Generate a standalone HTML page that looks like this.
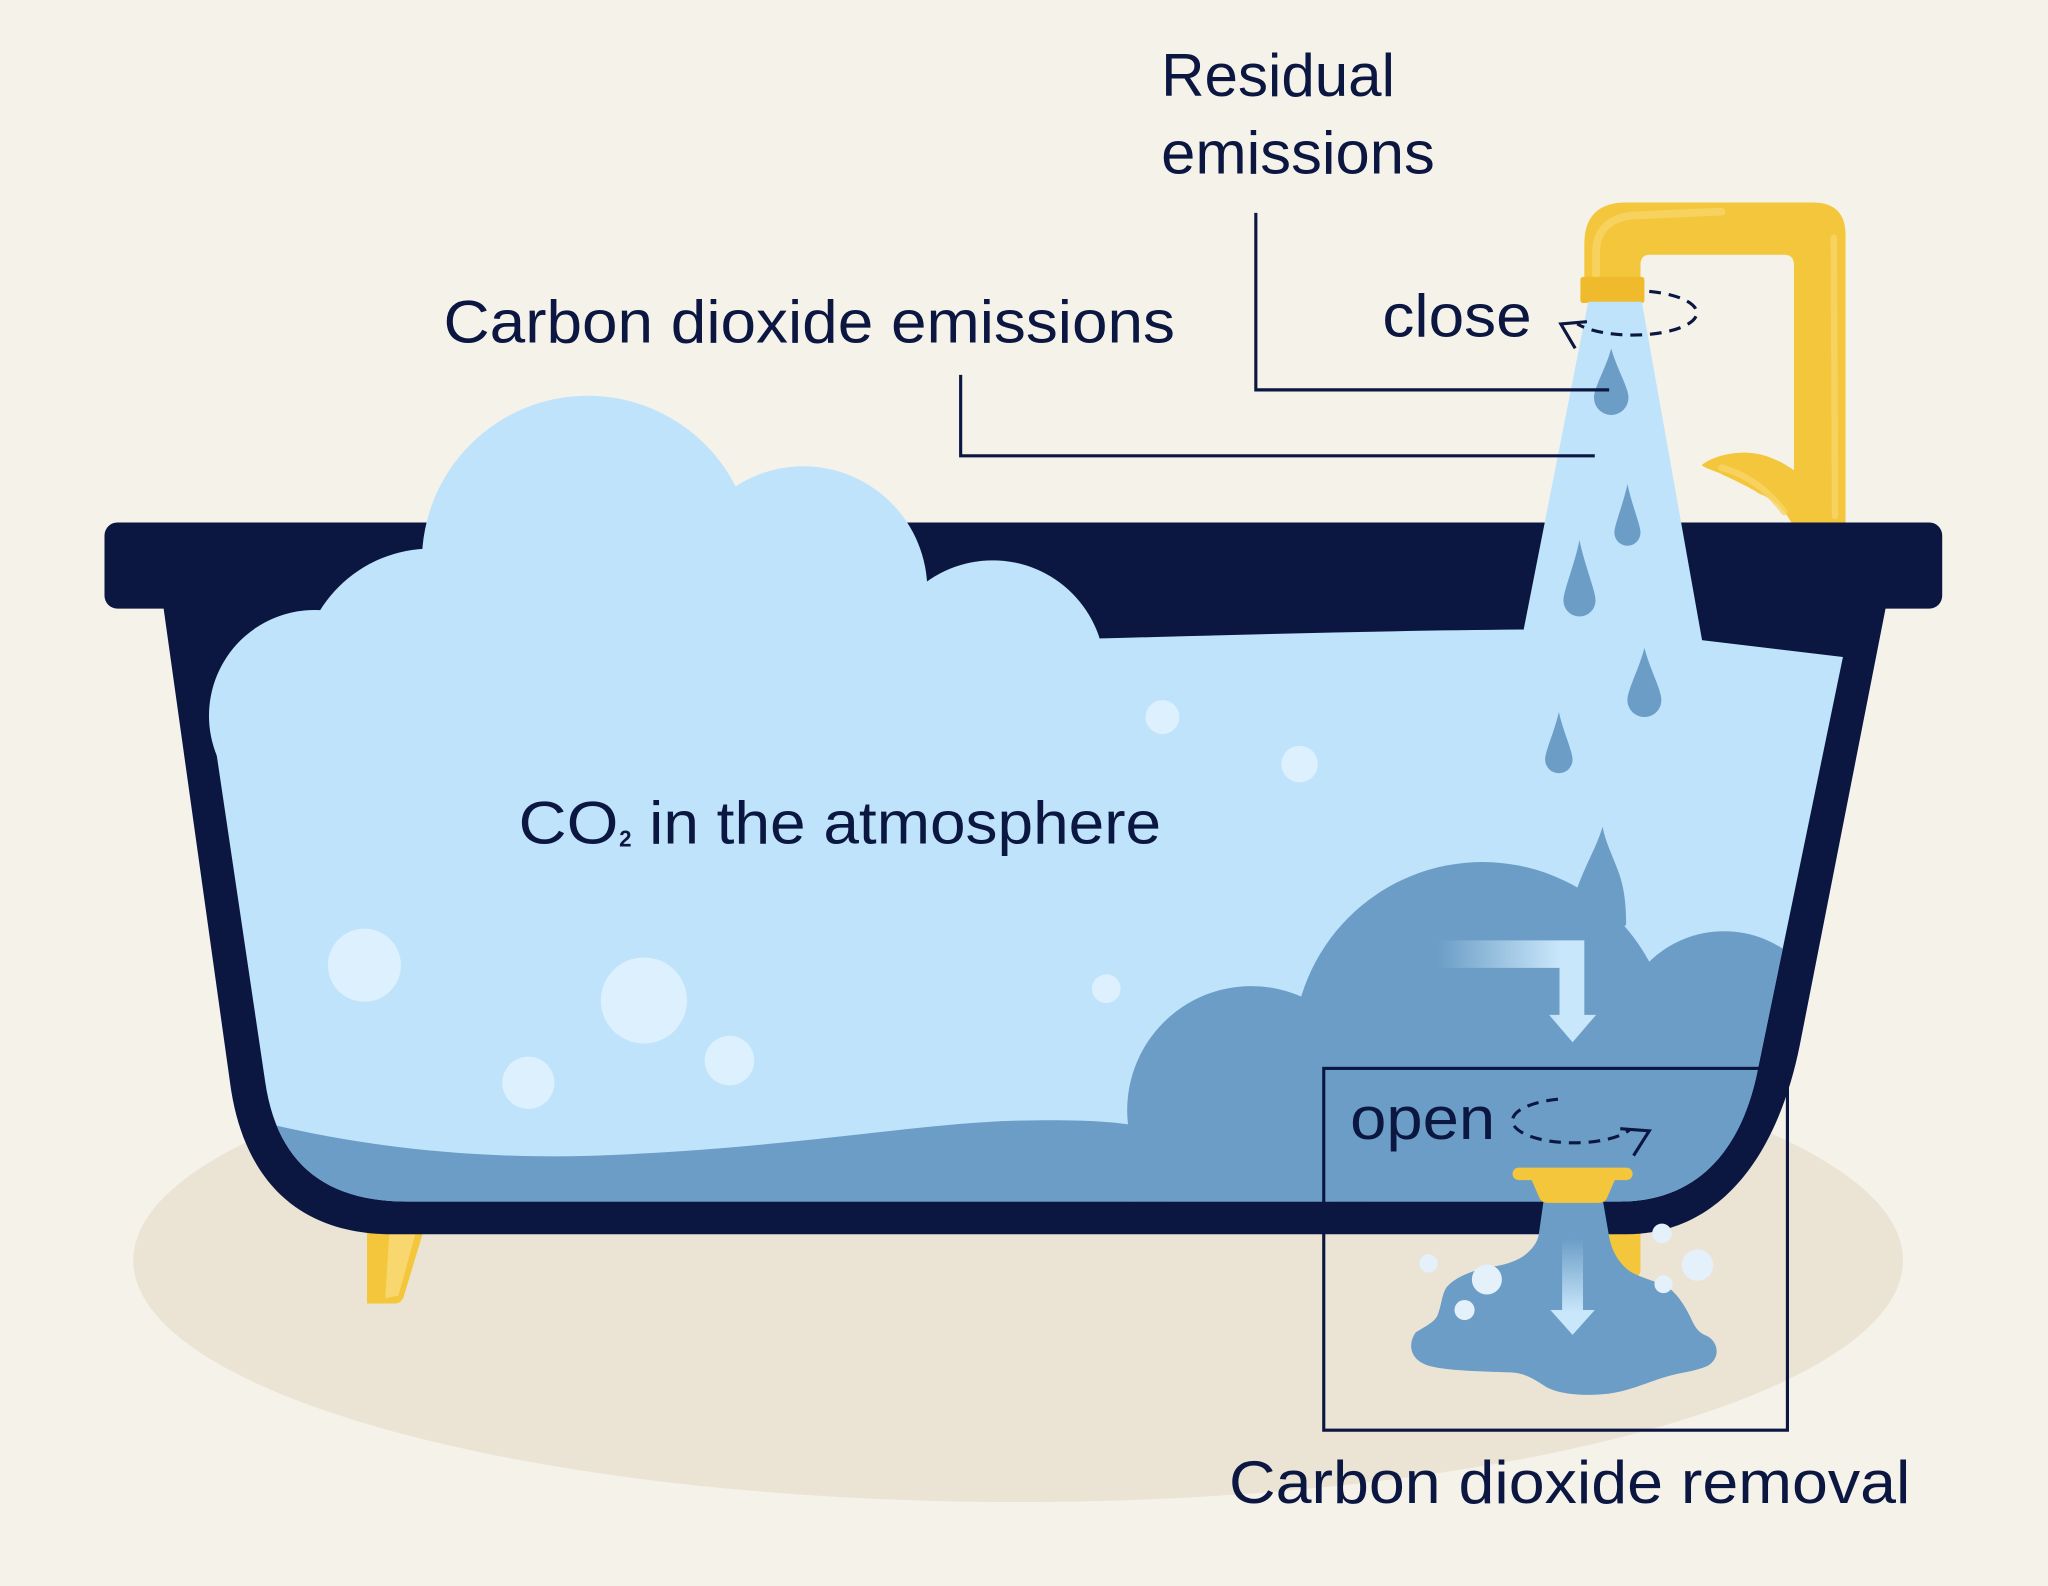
<!DOCTYPE html>
<html><head><meta charset="utf-8"><style>
html,body{margin:0;padding:0;background:#f5f2ea;}
svg{display:block;}
text{font-family:"Liberation Sans",Arial,sans-serif;fill:#0b1741;}
</style></head><body>
<svg width="2048" height="1586" viewBox="0 0 1568 1214.3" preserveAspectRatio="none" xmlns="http://www.w3.org/2000/svg">
<defs>
<clipPath id="inner"><path d="M161,545 L203,828 C212,890 248,920 312,920 L1240,920 C1300,920 1334,880 1346,818 L1411,503 L1411,300 L161,300 Z"/></clipPath>
<linearGradient id="ga" gradientUnits="userSpaceOnUse" x1="1100" y1="0" x2="1195" y2="0"><stop offset="0" stop-color="#c9e7fb" stop-opacity="0"/><stop offset="1" stop-color="#c9e7fb" stop-opacity="1"/></linearGradient>
<linearGradient id="gb" gradientUnits="userSpaceOnUse" x1="0" y1="948" x2="0" y2="1005"><stop offset="0" stop-color="#c9e7fb" stop-opacity="0"/><stop offset="1" stop-color="#c9e7fb" stop-opacity="1"/></linearGradient>
</defs>
<rect x="0" y="0" width="1568" height="1215" fill="#f5f2ea"/>
<ellipse cx="779.5" cy="965" rx="677.5" ry="185" fill="#ebe4d5"/>
<!-- feet -->
<path d="M281,940 L325,940 L309,993 Q307,998 302,998 L281,998 Z" fill="#f3c63c"/>
<path d="M298,945 L318,945 L305,992 L295,994 Z" fill="#f8d86e"/>
<path d="M1232,940 L1256,940 L1256,972 Q1256,978 1250,978 L1232,978 Z" fill="#f3c63c"/>
<!-- faucet -->
<path d="M1213,214 L1213,187 Q1213,155 1245,155 L1388,155 Q1413,155 1413,180 L1413,405 L1374,405 C1368,392 1360,383 1347,378 C1338,372 1326,367 1316,362 C1308,359 1303,357 1303,356 C1310,350 1325,346 1338,346.6 C1350,347 1362,352 1373.5,360 L1373.5,203 Q1373.5,195 1366,195 L1263,195 Q1256,195 1256,203 L1256,214 Z" fill="#f3c63c"/>
<path d="M1222,210 L1222,192 Q1223,168 1250,165 L1318,162" stroke="#f7d467" stroke-width="6" fill="none" stroke-linecap="round" opacity="0.8"/>
<path d="M1404,182 L1405,395" stroke="#f7d467" stroke-width="5" fill="none" stroke-linecap="round" opacity="0.8"/>
<path d="M1318,358 C1336,363 1352,373 1366,392" stroke="#f7d467" stroke-width="5" fill="none" stroke-linecap="round" opacity="0.8"/>
<rect x="1210" y="212" width="49" height="20" rx="2" fill="#efbb2c"/>
<!-- tub -->
<rect x="80" y="400" width="1407" height="66" rx="10" fill="#0b1741"/>
<path d="M125,464 L176,828 C186,905 230,945 300,945 L1245,945 C1320,945 1362,880 1378,800 L1444,464 Z" fill="#0b1741"/>
<!-- light water + cloud -->
<g fill="#bee3fa">
<path d="M161,545 L203,828 C212,890 248,920 312,920 L1240,920 C1300,920 1334,880 1346,818 L1411,503 L1302,490 L1165,482 C1050,483 950,486 836,489 L780,489 L780,468 L235,468 L235,545 Z"/>
<circle cx="241" cy="548" r="81"/>
<circle cx="330" cy="520" r="100"/>
<circle cx="450" cy="430" r="127"/>
<circle cx="615" cy="452" r="95"/>
<circle cx="760" cy="515" r="86"/>
</g>
<!-- dark water -->
<g clip-path="url(#inner)" fill="#6b9dc6">
<path d="M150,845 C230,870 330,888 450,885 C600,880 700,860 780,858 C830,857 855,859 870,862 L870,950 L150,950 Z"/>
<circle cx="958" cy="850" r="95"/>
<circle cx="1135" cy="805" r="145"/>
<circle cx="1320" cy="795" r="82"/>
<rect x="864" y="850" width="560" height="100"/>
<path d="M1227,633 C1222,650 1212,665 1206,685 L1230,720 L1245,708 C1245,695 1244,682 1240,670 C1236,658 1229,645 1227,633 Z"/>
</g>
<!-- bubbles -->
<g fill="#dcf0fd">
<circle cx="890" cy="549" r="13"/>
<circle cx="995" cy="585" r="14"/>
<circle cx="279" cy="739" r="28"/>
<circle cx="493" cy="766" r="33"/>
<circle cx="404.5" cy="829" r="20"/>
<circle cx="558.5" cy="812" r="19"/>
<circle cx="847" cy="757" r="11"/>
</g>
<!-- stream -->
<path d="M1216,231 L1257,231 L1304,495 L1164,495 Z" fill="#bee3fa"/>
<g fill="#6b9dc6">
<path d="M1233.6,266.7 C1237.6,281.8 1246.8,296.6 1246.8,304.5 A13.2 13.2 0 0 1 1220.4,304.5 C1220.4,296.6 1229.6,281.8 1233.6,266.7Z"/>
<path d="M1246,370.6 C1249,385.5 1256,401.8 1256,407.8 A10 10 0 0 1 1236,407.8 C1236,401.8 1243,385.5 1246,370.6Z"/>
<path d="M1209.3,413.5 C1213,432 1221.6,452.3 1221.6,459.7 A12.3 12.3 0 0 1 1197,459.7 C1197,452.3 1205.6,432 1209.3,413.5Z"/>
<path d="M1259,496 C1263,512 1272,528 1272,536 A13 13 0 0 1 1246,536 C1246,528 1255,512 1259,496Z"/>
<path d="M1193.5,545 C1196.6,559.6 1204,575 1204,581.5 A10.5 10.5 0 0 1 1183,581.5 C1183,575 1190.4,559.6 1193.5,545Z"/>
</g>
<!-- top arrow -->
<path d="M1100,720 L1213,720 L1213,777 L1222,777 L1204,798 L1186,777 L1194,777 L1194,741 L1100,741 Z" fill="url(#ga)"/>
<!-- drain & puddle -->
<path d="M1182,918 L1227,918 L1232,947 C1234,957 1238,965 1246,972 C1252,977 1265,980 1276,985 C1284,990 1290,1000 1294,1008 C1297,1015 1300,1020 1305,1022 C1316,1026 1318,1040 1307,1046 C1298,1050 1286,1051 1276,1054 C1262,1058 1248,1065 1232,1067 C1215,1069 1195,1068 1184,1062 C1175,1056 1168,1052 1160,1051 C1140,1050 1110,1050 1095,1046 C1080,1042 1077,1030 1084,1020 C1092,1015 1099,1012 1101,1006 C1104,998 1104,990 1108,985 C1115,977 1130,972 1141,970 C1150,969 1160,966 1166,962 C1173,957 1177,951 1178,946 Z" fill="#6b9dc6"/>
<rect x="1158" y="894" width="92" height="9.5" rx="4.7" fill="#f3c63c"/>
<path d="M1172,902 L1237,902 L1230,918 Q1228,921 1224,921 L1185,921 Q1181,921 1179,918 Z" fill="#f3c63c"/>
<g fill="#e4f1fb">
<circle cx="1093.7" cy="967.3" r="7"/>
<circle cx="1138.4" cy="979.6" r="11.5"/>
<circle cx="1121.3" cy="1003" r="7.7"/>
<circle cx="1272.4" cy="944.4" r="7.5"/>
<circle cx="1299.7" cy="968.6" r="12"/>
<circle cx="1273.6" cy="983.2" r="6.9"/>
</g>
<path d="M1196,948 L1212,948 L1212,1003 L1221,1003 L1204,1022 L1187,1003 L1196,1003 Z" fill="url(#gb)"/>
<!-- connectors -->
<g stroke="#0b1741" stroke-width="2.4" fill="none">
<path d="M961.5,163 L961.5,298.5 L1232,298.5"/>
<path d="M735.5,287 L735.5,349 L1221,349"/>
<rect x="1013.5" y="818" width="355" height="277"/>
<path d="M1262.7,223.1 A49 17 0 1 1 1207.6,248" stroke-dasharray="9 6"/>
<polyline points="1215,246.3 1195,248 1206,266.7" stroke-linejoin="miter"/>
<path d="M1192.8,841.6 A47 17 0 1 0 1247.6,865.2" stroke-dasharray="9 6"/>
<polyline points="1240.5,864.2 1262.7,865.8 1250.7,884.8"/>
</g>
<!-- text -->
<g font-size="46">
<text x="889" y="73.5" textLength="179" lengthAdjust="spacingAndGlyphs">Residual</text>
<text x="889" y="132.7" textLength="209.5" lengthAdjust="spacingAndGlyphs">emissions</text>
<text x="339.6" y="262.4" textLength="560" lengthAdjust="spacingAndGlyphs">Carbon dioxide emissions</text>
<text x="1058.4" y="257.8" textLength="114.3" lengthAdjust="spacingAndGlyphs">close</text>
<text x="397" y="645.7" textLength="76.5" lengthAdjust="spacingAndGlyphs">CO</text>
<text x="497" y="645.7" textLength="392" lengthAdjust="spacingAndGlyphs">in the atmosphere</text>
<text x="1033.7" y="872" textLength="111" lengthAdjust="spacingAndGlyphs">open</text>
<text x="941" y="1150.6" textLength="521.6" lengthAdjust="spacingAndGlyphs">Carbon dioxide removal</text>
</g>
<text x="474" y="648" font-size="18" font-weight="bold" textLength="9.5" lengthAdjust="spacingAndGlyphs">2</text>
</svg>
</body></html>
